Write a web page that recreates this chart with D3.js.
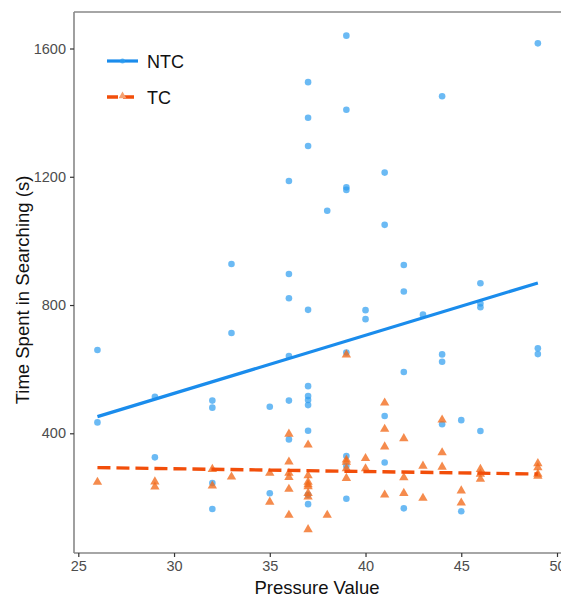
<!DOCTYPE html>
<html>
<head>
<meta charset="utf-8">
<script src="https://cdn.jsdelivr.net/npm/d3@7/dist/d3.min.js"></script>
<style>
  html, body { margin: 0; padding: 0; background: #fff; }
  svg { display: block; font-family: "Liberation Sans", Arial, Helvetica, sans-serif; }
</style>
</head>
<body>
<svg id="chart" width="561" height="598"></svg>
<script>
// ---- data ----
const ntcPressure = [26,26, 29,29, 32,32,32,32, 33,33, 35,35,
  36,36,36,36,36,36, 37,37,37,37,37,37,37,37,37,37,37, 38,
  39,39,39,39,39,39,39,39, 40,40, 41,41,41,41, 42,42,42,42, 43,
  44,44,44,44, 45,45, 46,46,46,46, 49,49,49];
const ntcTime = [660,434, 514,325, 502,480,245,164, 928,713, 483,213,
  1187,897,821,641,502,381, 1495,1384,1296,785,547,516,504,488,408,208,179, 1094,
  1640,1409,1167,1159,652,329,298,196, 784,756, 1213,1050,454,309, 925,842,591,166, 770,
  1451,646,623,428, 441,157, 868,805,793,407, 1616,665,647];

const tcPressure = [26, 29,29, 32,32, 33, 35,35,
  36,36,36,36,36,36, 37,37,37,37,37,37,37,37, 38,
  39,39,39,39,39, 40,40, 41,41,41,41, 42,42,42, 43,43,
  44,44,44, 45,45, 46,46,46, 49,49,49,49];
const tcTime = [248, 249,233, 288,236, 264, 276,186,
  398,311,276,263,226,145, 364,268,248,240,234,213,202,100, 145,
  645,317,310,290,260, 322,290, 495,413,358,208, 384,262,213, 298,198,
  442,340,295, 221,183, 288,273,257, 306,293,273,267];

// fitted trend lines (end points)
const trendPressure = [26, 49];
const ntcTrend = [452, 869];
const tcTrend = [293, 273];

const xTicks = [25, 30, 35, 40, 45, 50];
const yTicks = [400, 800, 1200, 1600];
const seriesNames = ["NTC", "TC"];

// ---- drawing ----
(function () {
const svg = d3.select("#chart");
const pLeft = 74, pRight = 561, pTop = 12, pBottom = 553;

const x = d3.scaleLinear().domain([25, 50]).range([78.3, 557]);
const y = d3.scaleLinear().domain([400, 1600]).range([433.3, 48.5]);

const axisCol = "#888";
const textCol = "#4d4d4d";
const ntcPointCol = "#2c9cf0";
const tcPointCol = "#f26a1b";
const ntcLineCol = "#1a8cec";
const tcLineCol = "#f24e0a";

// frame lines
svg.append("line").attr("x1", pLeft).attr("x2", pRight).attr("y1", pTop).attr("y2", pTop)
  .attr("stroke", axisCol).attr("stroke-width", 1.6);
svg.append("line").attr("x1", pLeft).attr("x2", pLeft).attr("y1", pTop).attr("y2", pBottom)
  .attr("stroke", axisCol).attr("stroke-width", 1.6);
svg.append("line").attr("x1", pLeft).attr("x2", pRight).attr("y1", pBottom).attr("y2", pBottom)
  .attr("stroke", axisCol).attr("stroke-width", 1.6);

// y axis
const yAxis = svg.append("g").attr("transform", `translate(${pLeft},0)`)
  .call(d3.axisLeft(y).tickValues(yTicks).tickSize(4).tickPadding(4).tickFormat(d3.format("d")));
yAxis.select(".domain").remove();
yAxis.selectAll(".tick line").attr("stroke", "#333").attr("stroke-width", 1.2);
yAxis.selectAll(".tick text").attr("fill", textCol).style("font-size", "14.5px");

// x axis
const xAxis = svg.append("g").attr("transform", `translate(0,${pBottom})`)
  .call(d3.axisBottom(x).tickValues(xTicks).tickSize(4).tickPadding(4).tickFormat(d3.format("d")));
xAxis.select(".domain").remove();
xAxis.selectAll(".tick line").attr("stroke", "#333").attr("stroke-width", 1.2);
xAxis.selectAll(".tick text").attr("fill", textCol).style("font-size", "14.5px");

// axis titles
svg.append("text").attr("x", 317).attr("y", 594).attr("text-anchor", "middle")
  .style("font-size", "18.5px").attr("fill", "#111").text("Pressure Value");
svg.append("text").attr("transform", "translate(29,290) rotate(-90)").attr("text-anchor", "middle")
  .style("font-size", "18.5px").attr("fill", "#111").text("Time Spent in Searching (s)");

// clip to panel
svg.append("clipPath").attr("id", "panel").append("rect")
  .attr("x", pLeft).attr("y", pTop).attr("width", pRight - pLeft).attr("height", pBottom - pTop);
const panel = svg.append("g").attr("clip-path", "url(#panel)");

// points
const ntcData = ntcPressure.map((p, i) => ({ p, t: ntcTime[i] }));
const tcData = tcPressure.map((p, i) => ({ p, t: tcTime[i] }));

panel.append("g").selectAll("circle").data(ntcData).join("circle")
  .attr("cx", d => x(d.p)).attr("cy", d => y(d.t)).attr("r", 3.3)
  .attr("fill", ntcPointCol).attr("fill-opacity", 0.7);

const tri = d3.symbol().type(d3.symbolTriangle).size(38);
panel.append("g").selectAll("path").data(tcData).join("path")
  .attr("d", tri).attr("transform", d => `translate(${x(d.p)},${y(d.t)})`)
  .attr("fill", tcPointCol).attr("fill-opacity", 0.78);

// trend lines
const line = d3.line().x(d => x(d[0])).y(d => y(d[1]));
panel.append("path").datum(trendPressure.map((p, i) => [p, ntcTrend[i]]))
  .attr("d", line).attr("fill", "none").attr("stroke", ntcLineCol).attr("stroke-width", 3.2);
panel.append("path").datum(trendPressure.map((p, i) => [p, tcTrend[i]]))
  .attr("d", line).attr("fill", "none").attr("stroke", tcLineCol).attr("stroke-width", 3.4)
  .attr("stroke-dasharray", "13,6");

// legend
const legend = svg.append("g");
const legRows = [{ name: seriesNames[0], y: 61 }, { name: seriesNames[1], y: 97 }];
legRows.forEach((r, i) => {
  const g = legend.append("g");
  if (i === 0) {
    g.append("line").attr("x1", 107).attr("x2", 138).attr("y1", r.y).attr("y2", r.y)
      .attr("stroke", ntcLineCol).attr("stroke-width", 3.2);
    g.append("circle").attr("cx", 122.5).attr("cy", r.y).attr("r", 2.5)
      .attr("fill", ntcPointCol).attr("fill-opacity", 0.7);
  } else {
    g.append("line").attr("x1", 107).attr("x2", 138).attr("y1", r.y).attr("y2", r.y)
      .attr("stroke", tcLineCol).attr("stroke-width", 3.4).attr("stroke-dasharray", "11,5");
    g.append("path").attr("d", d3.symbol().type(d3.symbolTriangle).size(26)())
      .attr("transform", `translate(122.5,${r.y - 1})`)
      .attr("fill", "#f5a070");
  }
  g.append("text").attr("x", 147).attr("y", r.y + 6.5).style("font-size", "18px")
    .attr("fill", "#111").text(r.name);
});
})();
</script>
</body>
</html>
